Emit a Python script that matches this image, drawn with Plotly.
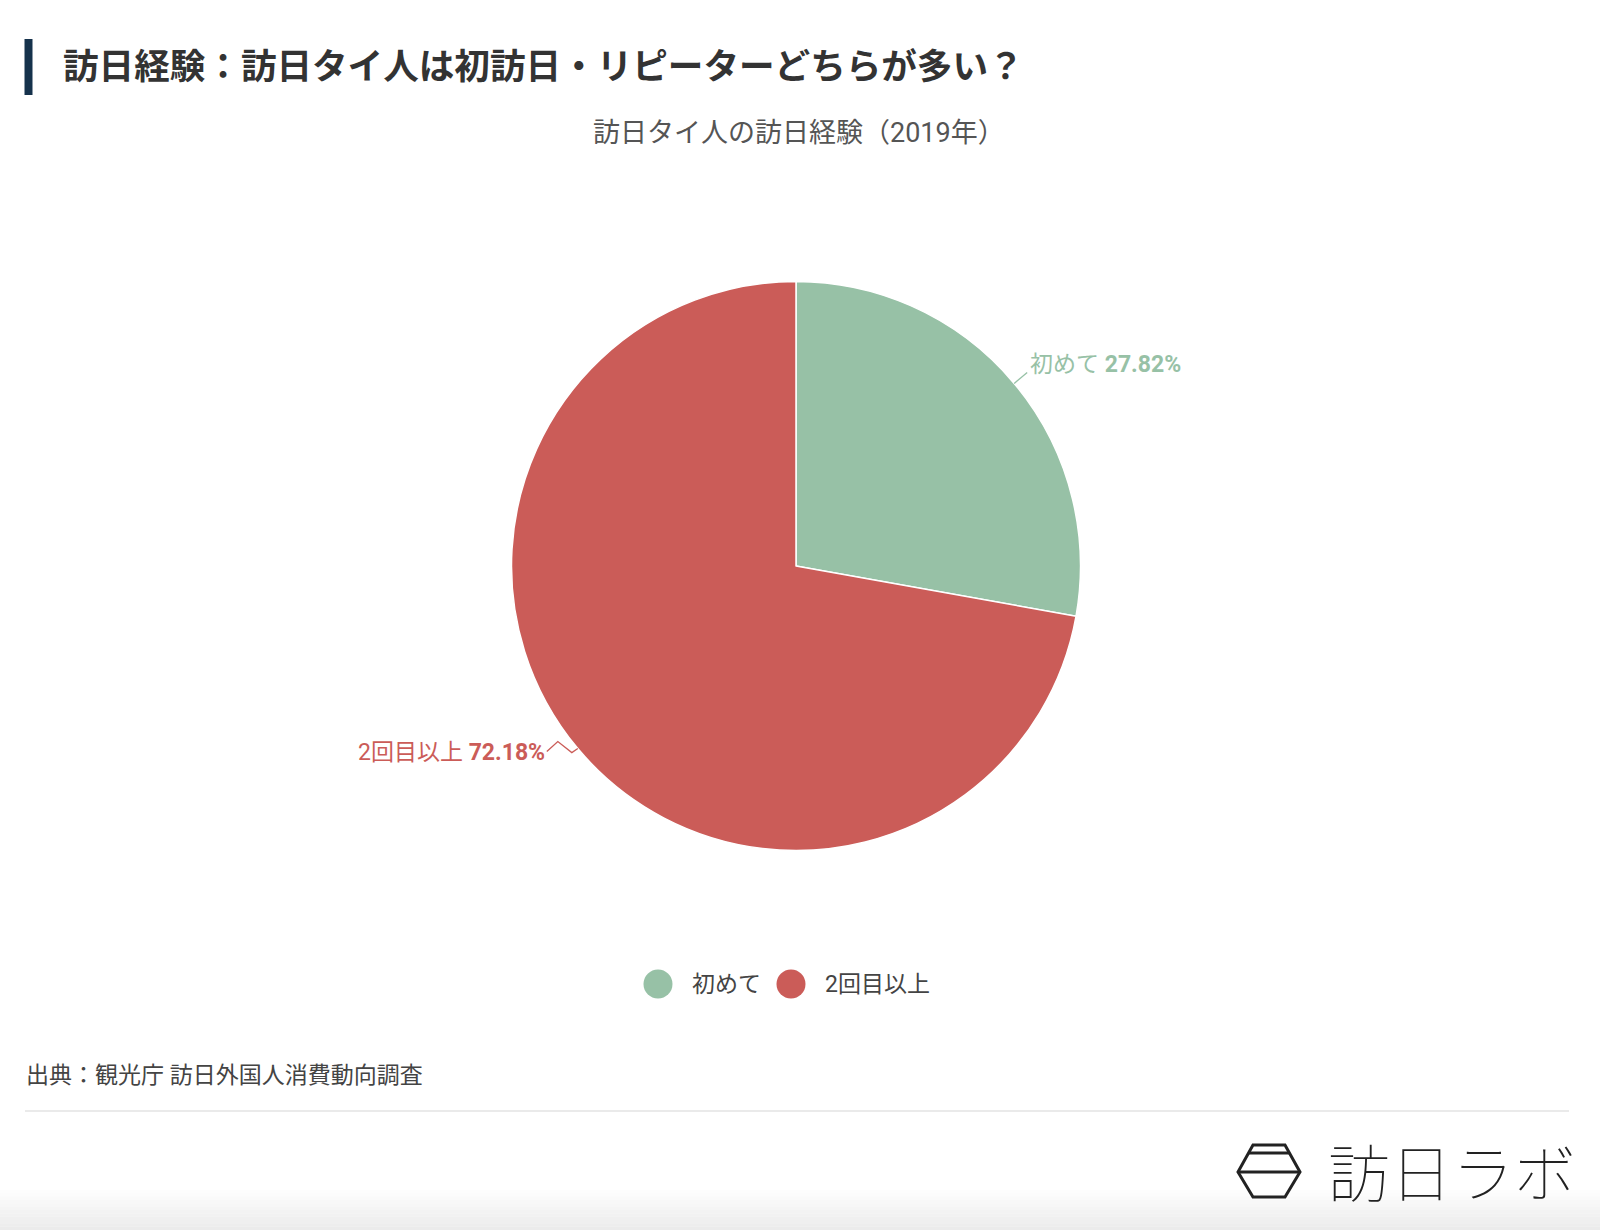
import math
import plotly.graph_objects as go

# ---- data ----
categories = ["初めて", "2回目以上"]
values = [27.82, 72.18]
colors = ["#97C1A6", "#CB5C58"]
title_text = "訪日経験：訪日タイ人は初訪日・リピーターどちらが多い？"
subtitle_text = "訪日タイ人の訪日経験（2019年）"
source_text = "出典：観光庁 訪日外国人消費動向調査"
logo_text = "訪日ラボ"

W, H = 1600, 1230
FONT = "Roboto, 'Noto Sans CJK JP', sans-serif"

def px(x):
    return x / W

def py(y):
    return 1 - y / H

# pie geometry (pixels)
CX, CY, R = 796, 566, 284.5

fig = go.Figure()
fig.add_trace(go.Pie(
    labels=categories,
    values=values,
    marker=dict(colors=colors, line=dict(color="white", width=1.5)),
    sort=False,
    direction="clockwise",
    rotation=0,
    textinfo="none",
    hoverinfo="label+percent",
    showlegend=False,
    domain=dict(x=[px(CX - R), px(CX + R)], y=[py(CY + R), py(CY - R)]),
))

annotations = []
shapes = []

# title bar + title
shapes.append(dict(type="rect", xref="paper", yref="paper",
                   x0=px(24.5), x1=px(32.5), y0=py(95), y1=py(39),
                   fillcolor="#16324C", line=dict(width=0)))
annotations.append(dict(text="<b>" + title_text + "</b>", xref="paper", yref="paper",
                        x=px(61), y=py(67), xanchor="left", yanchor="middle",
                        showarrow=False, font=dict(family=FONT, size=35.6, color="#333333")))
annotations.append(dict(text=subtitle_text, xref="paper", yref="paper",
                        x=px(591), y=py(133), xanchor="left", yanchor="middle",
                        showarrow=False, font=dict(family=FONT, size=27, color="#555555")))

# slice labels with leader lines, placed from the slice mid-angles
total = sum(values)
cum = 0.0
for i, (cat, v, col) in enumerate(zip(categories, values, colors)):
    a = 2 * math.pi * (cum + v / 2) / total
    cum += v
    ex = CX + R * math.sin(a)
    ey = CY - R * math.cos(a)
    pct = f"{v:.2f}%"
    if math.sin(a) >= 0:
        # right side: short straight line up-right
        pts = [(ex, ey), (ex + 13, ey - 11)]
        tx, ty, anchor = ex + 14, ey - 19, "left"
    else:
        # left side: small zigzag leader
        pts = [(ex, ey), (ex - 6, ey + 4), (ex - 20, ey - 7), (ex - 31, ey + 3)]
        tx, ty, anchor = ex - 31, ey + 4, "right"
    path = "M " + " L ".join(f"{px(x):.5f},{py(y):.5f}" for x, y in pts)
    shapes.append(dict(type="path", xref="paper", yref="paper", path=path,
                       line=dict(color=col, width=1.3)))
    annotations.append(dict(text=f"{cat} <b>{pct}</b>", xref="paper", yref="paper",
                            x=px(tx), y=py(ty), xanchor=anchor, yanchor="middle",
                            showarrow=False, font=dict(family=FONT, size=23, color=col)))

# legend (circles + text)
legend_x = [658, 791]
for cat, col, lx in zip(categories, colors, legend_x):
    r = 14.5
    shapes.append(dict(type="circle", xref="paper", yref="paper",
                       x0=px(lx - r), x1=px(lx + r), y0=py(984 + r), y1=py(984 - r),
                       fillcolor=col, line=dict(width=0)))
    annotations.append(dict(text=cat, xref="paper", yref="paper",
                            x=px(lx + 32), y=py(984), xanchor="left", yanchor="middle",
                            showarrow=False, font=dict(family=FONT, size=23, color="#444444")))

# source + separator
annotations.append(dict(text=source_text, xref="paper", yref="paper",
                        x=px(24), y=py(1075), xanchor="left", yanchor="middle",
                        showarrow=False, font=dict(family=FONT, size=23, color="#444444")))
shapes.append(dict(type="line", xref="paper", yref="paper",
                   x0=px(25), x1=px(1569), y0=py(1111), y1=py(1111),
                   line=dict(color="#E3E3E3", width=1.5)))

# bottom soft gradient
steps = 12
for k in range(steps):
    y0 = 1190 + k * (40 / steps)
    shapes.append(dict(type="rect", xref="paper", yref="paper",
                       x0=0, x1=1, y0=py(y0 + 40 / steps), y1=py(y0),
                       fillcolor="#E8E8E8", opacity=0.08 + 0.07 * k, line=dict(width=0),
                       layer="below"))

# logo icon (hexagon)
hexpts = [(1238, 1172), (1253, 1145), (1285, 1145), (1300, 1172), (1285, 1197), (1253, 1197)]
hp = "M " + " L ".join(f"{px(x):.5f},{py(y):.5f}" for x, y in hexpts) + " Z"
shapes.append(dict(type="path", xref="paper", yref="paper", path=hp,
                   line=dict(color="#222222", width=3)))
shapes.append(dict(type="line", xref="paper", yref="paper",
                   x0=px(1238), x1=px(1300), y0=py(1172), y1=py(1172),
                   line=dict(color="#222222", width=3)))
shapes.append(dict(type="line", xref="paper", yref="paper",
                   x0=px(1249), x1=px(1289), y0=py(1153), y1=py(1153),
                   line=dict(color="#222222", width=3)))
annotations.append(dict(text=logo_text, xref="paper", yref="paper",
                        x=px(1578), y=py(1170), xanchor="right", yanchor="middle",
                        showarrow=False,
                        font=dict(family="'Noto Sans CJK JP', sans-serif", size=62,
                                  color="#222222", weight=100)))

fig.update_layout(
    width=W, height=H, autosize=False,
    margin=dict(l=0, r=0, t=0, b=0),
    paper_bgcolor="white", plot_bgcolor="white",
    annotations=annotations, shapes=shapes,
    showlegend=False,
)

fig.write_html("out.html")
